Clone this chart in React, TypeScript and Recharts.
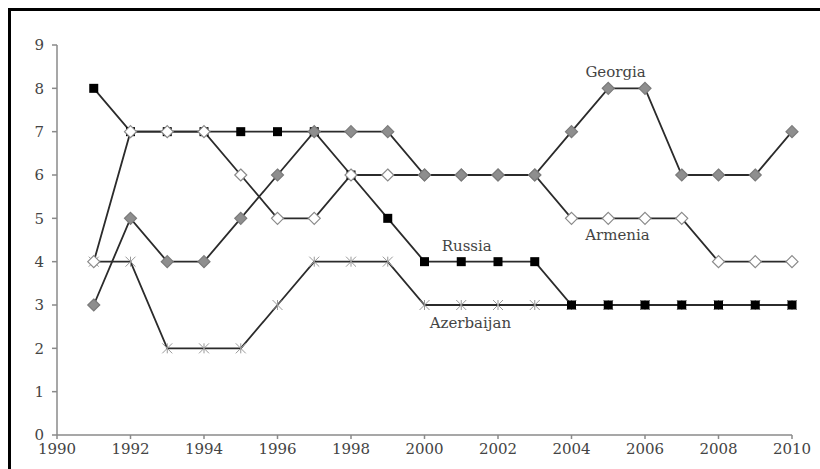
import React from 'react';
import { LineChart, Line, XAxis, YAxis, ReferenceDot } from 'recharts';

// Годы и значения по странам
const years = [1991, 1992, 1993, 1994, 1995, 1996, 1997, 1998, 1999, 2000, 2001, 2002, 2003, 2004, 2005, 2006, 2007, 2008, 2009, 2010];
const russia = [8, 7, 7, 7, 7, 7, 7, 6, 5, 4, 4, 4, 4, 3, 3, 3, 3, 3, 3, 3];
const armenia = [4, 7, 7, 7, 6, 5, 5, 6, 6, 6, 6, 6, 6, 5, 5, 5, 5, 4, 4, 4];
const georgia = [3, 5, 4, 4, 5, 6, 7, 7, 7, 6, 6, 6, 6, 7, 8, 8, 6, 6, 6, 7];
const azerbaijan = [4, 4, 2, 2, 2, 3, 4, 4, 4, 3, 3, 3, 3, 3, 3, 3, 3, 3, 3, 3];

const xTicks = [1990, 1992, 1994, 1996, 1998, 2000, 2002, 2004, 2006, 2008, 2010];
const yTicks = [0, 1, 2, 3, 4, 5, 6, 7, 8, 9];

// Подписи серий прямо на графике (в координатах данных)
const seriesLabels = [
  { name: 'Georgia', x: 2005.2, y: 8.38 },
  { name: 'Armenia', x: 2005.25, y: 4.62 },
  { name: 'Russia', x: 2001.15, y: 4.38 },
  { name: 'Azerbaijan', x: 2001.25, y: 2.6 },
];

const data = years.map((year, i) => ({
  year,
  russia: russia[i],
  armenia: armenia[i],
  georgia: georgia[i],
  azerbaijan: azerbaijan[i],
}));

const FONT = '"DejaVu Serif", serif';
const LINE = '#2b2b2b';

// без полос прокрутки
if (typeof document !== 'undefined') {
  document.documentElement.style.overflow = 'hidden';
  document.body.style.overflow = 'hidden';
}

const SquareDot = (props: any) => {
  const { cx, cy } = props;
  if (cx == null || cy == null) return null;
  return <rect x={cx - 4.5} y={cy - 4.5} width={9} height={9} fill="#000" />;
};

const diamond = (fill: string, stroke: string) => (props: any) => {
  const { cx, cy } = props;
  if (cx == null || cy == null) return null;
  const r = 6;
  return (
    <path
      d={`M${cx},${cy - r} L${cx + r},${cy} L${cx},${cy + r} L${cx - r},${cy} Z`}
      fill={fill}
      stroke={stroke}
      strokeWidth={1.2}
    />
  );
};

const GrayDiamond = diamond('#8e8e8e', '#7a7a7a');
const WhiteDiamond = diamond('#ffffff', '#8a8a8a');

const StarDot = (props: any) => {
  const { cx, cy } = props;
  if (cx == null || cy == null) return null;
  const r = 5;
  return (
    <g stroke="#999" strokeWidth={1}>
      <line x1={cx - r} y1={cy - r} x2={cx + r} y2={cy + r} />
      <line x1={cx - r} y1={cy + r} x2={cx + r} y2={cy - r} />
      <line x1={cx} y1={cy - r} x2={cx} y2={cy + r} />
    </g>
  );
};

const App: React.FC = () => {
  return (
    <div
      style={{
        position: 'fixed',
        left: 8,
        top: 8,
        width: 809,
        height: 458,
        borderTop: '3px solid #000',
        borderLeft: '3px solid #000',
        background: '#fff',
      }}
    >
      <LineChart
        width={809}
        height={458}
        data={data}
        margin={{ top: 34, right: 28, left: 0, bottom: 0 }}
      >
        <XAxis
          dataKey="year"
          type="number"
          domain={[1990, 2010]}
          ticks={xTicks}
          height={34}
          tickSize={4}
          tickMargin={4}
          stroke="#8a8a8a"
          strokeWidth={1.5}
          tick={{ fill: '#444', fontSize: 15, fontFamily: FONT }}
        />
        <YAxis
          type="number"
          domain={[0, 9]}
          ticks={yTicks}
          width={46}
          tickSize={5}
          tickMargin={8}
          stroke="#8a8a8a"
          strokeWidth={1.5}
          tick={{ fill: '#444', fontSize: 15, fontFamily: FONT }}
        />
        <Line
          dataKey="azerbaijan"
          stroke={LINE}
          strokeWidth={1.8}
          dot={<StarDot />}
          activeDot={false}
          isAnimationActive={false}
        />
        <Line
          dataKey="russia"
          stroke={LINE}
          strokeWidth={1.8}
          dot={<SquareDot />}
          activeDot={false}
          isAnimationActive={false}
        />
        <Line
          dataKey="armenia"
          stroke={LINE}
          strokeWidth={1.8}
          dot={<WhiteDiamond />}
          activeDot={false}
          isAnimationActive={false}
        />
        <Line
          dataKey="georgia"
          stroke={LINE}
          strokeWidth={1.8}
          dot={<GrayDiamond />}
          activeDot={false}
          isAnimationActive={false}
        />
        {seriesLabels.map((l) => (
          <ReferenceDot
            key={l.name}
            x={l.x}
            y={l.y}
            r={0}
            fill="none"
            stroke="none"
            label={{ value: l.name, position: 'center', fill: '#444', fontSize: 15, fontFamily: FONT }}
          />
        ))}
      </LineChart>
    </div>
  );
};

export default App;
